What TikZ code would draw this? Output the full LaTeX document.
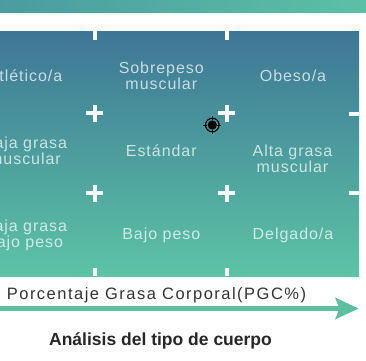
\documentclass[tikz,border=0pt]{standalone}
\usepackage{fontspec}
\setmainfont{Liberation Sans}
\definecolor{gtop}{RGB}{61,118,150}
\definecolor{gmid}{RGB}{74,150,155}
\definecolor{gbot}{RGB}{92,196,164}
\definecolor{barleft}{RGB}{74,156,160}
\definecolor{barright}{RGB}{92,192,165}
\definecolor{arrowgreen}{RGB}{92,191,159}
\definecolor{labelgray}{RGB}{51,51,51}
\definecolor{titlegray}{RGB}{38,38,38}
\tikzset{
  cell/.style={font=\fontsize{16}{16}\selectfont\addfontfeature{LetterSpace=6}, text=white, text opacity=0.72, align=center, anchor=base, inner sep=0pt},
  gridmark/.style={white, line width=4pt},
  axislabel/.style={font=\fontsize{16.5}{18}\selectfont\addfontfeature{LetterSpace=9}, text=labelgray, anchor=base, inner sep=0pt},
  titlelabel/.style={font=\fontsize{17.5}{20}\selectfont\bfseries, text=titlegray, anchor=base, inner sep=0pt},
}
\begin{document}
\begin{tikzpicture}[x=1pt,y=-1pt]
\useasboundingbox (0,0) rectangle (366,360);
% top bar
\fill[left color=barleft, right color=barright] (0,0) rectangle (366,12);
% grid background
\fill[top color=gtop, middle color=gmid, bottom color=gbot] (0,31) rectangle (359,276);
\begin{scope}
\clip (0,31) rectangle (359,276);
% texts (anchor base = baseline of last line)
\node[cell] (atl) at (25,81) {Atlético/a};
\node[cell] (sob) at (161.3,89.3) {Sobrepeso\\muscular};
\node[cell] (obe) at (293,81.5) {Obeso/a};
\node[cell] (bgm) at (25,164.3) {Baja grasa\\muscular};
\node[cell] (est) at (161.3,156.5) {Estándar};
\node[cell] (agm) at (292.5,172.3) {Alta grasa\\muscular};
\node[cell] (bgb) at (25,247.7) {Baja grasa\\bajo peso};
\node[cell] (bpe) at (161.3,239) {Bajo peso};
\node[cell] (del) at (293,239) {Delgado/a};
% ticks top / bottom
\foreach \x in {94.5,226.5} {
  \draw[gridmark] (\x,31) -- (\x,40);
  \draw[gridmark] (\x,267.5) -- (\x,276);
  \foreach \y in {113.3,193.3} {
    \draw[gridmark] (\x-8.5,\y) -- (\x+8.5,\y);
    \draw[gridmark] (\x,\y-8.5) -- (\x,\y+8.5);
  }
}
\foreach \y in {113.5,193.3} {
  \draw[gridmark] (349,\y) -- (359,\y);
}
\end{scope}
% target marker
\coordinate (tgt) at (212.3,125);
\fill[black] (tgt) circle (4.6);
\draw[black, line width=1.1pt] (tgt) circle (6.8);
\draw[black, line width=1pt] ([yshift=-5pt]tgt) -- ([yshift=-9pt]tgt)
  ([yshift=5pt]tgt) -- ([yshift=9pt]tgt)
  ([xshift=-5pt]tgt) -- ([xshift=-9pt]tgt)
  ([xshift=5pt]tgt) -- ([xshift=9pt]tgt);
% axis label
\node[axislabel] (xlab) at (156.5,299.3) {Porcentaje Grasa Corporal(PGC\%)};
% axis arrow
\coordinate (axstart) at (0,308.5);
\coordinate (axend) at (340,308.5);
\coordinate (axtip) at (358.5,308.5);
\draw[arrowgreen, line width=4.5pt] (axstart) -- (axend);
\fill[arrowgreen] (335,297.5) -- (axtip) -- (335,319.5) -- (339.5,308.5) -- cycle;
% title
\node[titlelabel] (title) at (160.5,345) {Análisis del tipo de cuerpo};
\end{tikzpicture}
\end{document}
